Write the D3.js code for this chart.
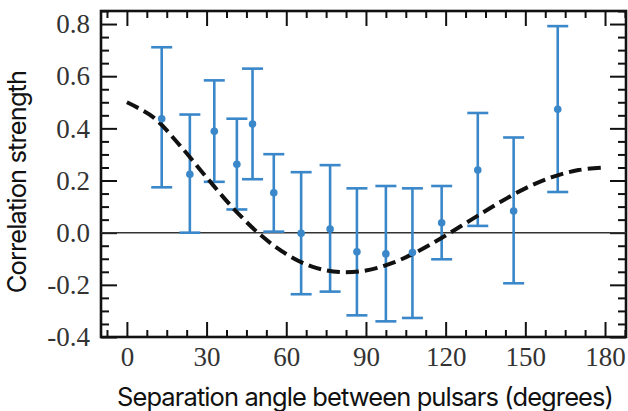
<!DOCTYPE html>
<html>
<head>
<meta charset="utf-8">
<script src="https://cdn.jsdelivr.net/npm/d3@7"></script>
<style>
  html, body { margin: 0; padding: 0; background: #fff; }
  svg { display: block; }
  .tlabel { font-family: "Liberation Serif", "DejaVu Serif", serif; font-size: 27px; fill: #333; }
  .title { font-family: Inter, "Noto Sans", sans-serif; font-size: 25.5px; letter-spacing: -0.9px; fill: #111; }
</style>
</head>
<body>
<svg id="chart" width="628" height="411"></svg>
<script>
// ---- data ----
const angles   = [13.1, 23.7, 32.9, 41.4, 47.3, 55.3, 65.6, 76.5, 86.6, 97.5, 107.5, 118.5, 132.1, 145.6, 162.2];
const values   = [0.437, 0.224, 0.389, 0.262, 0.417, 0.153, -0.002, 0.014, -0.073, -0.081, -0.076, 0.038, 0.240, 0.083, 0.473];
const upper    = [0.711, 0.453, 0.584, 0.437, 0.629, 0.301, 0.232, 0.259, 0.170, 0.179, 0.170, 0.179, 0.459, 0.365, 0.792];
const lower    = [0.174, 0.000, 0.195, 0.089, 0.205, 0.004, -0.236, -0.226, -0.317, -0.340, -0.327, -0.102, 0.026, -0.194, 0.156];

const curveAngles = [0, 10, 20, 30, 40, 50, 60, 70, 80, 90, 100, 110, 120, 130, 140, 150, 160, 170, 180];
const curveValues = [0.50, 0.442, 0.334, 0.212, 0.094, -0.006, -0.082, -0.131, -0.151, -0.145, -0.116, -0.069, -0.011, 0.052, 0.114, 0.170, 0.213, 0.240, 0.250];

const xTickLabels = ["0", "30", "60", "90", "120", "150", "180"];
const yTickLabels = ["-0.4", "-0.2", "0.0", "0.2", "0.4", "0.6", "0.8"];

const xTitle = "Separation angle between pulsars (degrees)";
const yTitle = "Correlation strength";

// ---- layout ----
(function () {
const svg = d3.select("#chart");
const pL = 101, pR = 626, pT = 11, pB = 337;
const x = d3.scaleLinear().domain([-9.75, 187.9]).range([pL, pR]);
const y = d3.scaleLinear().domain([-0.4, 0.85]).range([pB, pT]);

const blue = "#3a87c9";

const xMajor = xTickLabels.map(Number);
const xMinor = d3.range(-7.5, 188, 7.5).filter(v => !xMajor.includes(v));
const yMajor = yTickLabels.map(Number);
const yMinor = d3.range(-0.4, 0.851, 0.05).map(v => +v.toFixed(2)).filter(v => !yMajor.includes(v));

function styleAxis(g) {
  g.select(".domain").remove();
  g.attr("font-family", null).attr("font-size", null);
  g.selectAll("line").attr("stroke", "#111").attr("stroke-width", 2);
}

// bottom
svg.append("g").attr("transform", `translate(0,${pB})`)
  .call(d3.axisBottom(x).tickValues(xMinor).tickSize(-7).tickFormat(""))
  .call(styleAxis);
svg.append("g").attr("transform", `translate(0,${pB})`)
  .call(d3.axisBottom(x).tickValues(xMajor).tickSize(-15).tickFormat((d, i) => xTickLabels[i]))
  .call(styleAxis)
  .call(g => g.selectAll("text").attr("class", "tlabel").attr("fill", null).attr("dy", "0.71em").attr("y", 10));
// top
svg.append("g").attr("transform", `translate(0,${pT})`)
  .call(d3.axisTop(x).tickValues(xMinor).tickSize(-7).tickFormat(""))
  .call(styleAxis);
svg.append("g").attr("transform", `translate(0,${pT})`)
  .call(d3.axisTop(x).tickValues(xMajor).tickSize(-15).tickFormat(""))
  .call(styleAxis);
// left
svg.append("g").attr("transform", `translate(${pL},0)`)
  .call(d3.axisLeft(y).tickValues(yMinor).tickSize(-8).tickFormat(""))
  .call(styleAxis);
svg.append("g").attr("transform", `translate(${pL},0)`)
  .call(d3.axisLeft(y).tickValues(yMajor).tickSize(-16).tickFormat((d, i) => yTickLabels[i]))
  .call(styleAxis)
  .call(g => g.selectAll("text").attr("class", "tlabel").attr("fill", null).attr("x", -11));
// right
svg.append("g").attr("transform", `translate(${pR},0)`)
  .call(d3.axisRight(y).tickValues(yMinor).tickSize(-8).tickFormat(""))
  .call(styleAxis);
svg.append("g").attr("transform", `translate(${pR},0)`)
  .call(d3.axisRight(y).tickValues(yMajor).tickSize(-16).tickFormat(""))
  .call(styleAxis);

// frame
svg.append("rect")
  .attr("x", pL).attr("y", pT)
  .attr("width", pR - pL).attr("height", pB - pT)
  .attr("fill", "none").attr("stroke", "#111").attr("stroke-width", 2.6);

// zero line
svg.append("line")
  .attr("x1", pL).attr("x2", pR)
  .attr("y1", y(0)).attr("y2", y(0))
  .attr("stroke", "#333").attr("stroke-width", 1.4);

// error bars
const capHalf = 10.5;
const bars = svg.append("g").attr("stroke", blue).attr("stroke-width", 2.6);
angles.forEach((a, i) => {
  bars.append("line").attr("x1", x(a)).attr("x2", x(a)).attr("y1", y(upper[i])).attr("y2", y(lower[i]));
  bars.append("line").attr("x1", x(a) - capHalf).attr("x2", x(a) + capHalf).attr("y1", y(upper[i])).attr("y2", y(upper[i]));
  bars.append("line").attr("x1", x(a) - capHalf).attr("x2", x(a) + capHalf).attr("y1", y(lower[i])).attr("y2", y(lower[i]));
});

// dashed curve
const line = d3.line().x((d, i) => x(curveAngles[i])).y(d => y(d)).curve(d3.curveCatmullRom);
svg.append("path")
  .datum(curveValues)
  .attr("d", line)
  .attr("fill", "none")
  .attr("stroke", "#111")
  .attr("stroke-width", 4)
  .attr("stroke-dasharray", "13,6");

// points
svg.append("g").selectAll("circle")
  .data(values)
  .join("circle")
  .attr("cx", (d, i) => x(angles[i]))
  .attr("cy", d => y(d))
  .attr("r", 3.8)
  .attr("fill", blue);

// titles
svg.append("text")
  .attr("class", "title")
  .attr("x", 365).attr("y", 406)
  .attr("text-anchor", "middle")
  .text(xTitle);

svg.append("text")
  .attr("class", "title")
  .attr("transform", "translate(26,182) rotate(-90)")
  .attr("text-anchor", "middle")
  .text(yTitle);
})();
</script>
</body>
</html>
